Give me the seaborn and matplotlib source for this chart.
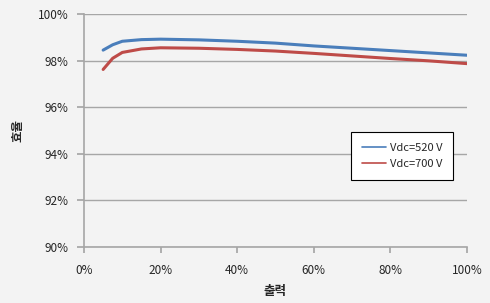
import numpy as np
import pandas as pd
import seaborn as sns
import matplotlib.pyplot as plt
from matplotlib.ticker import PercentFormatter

# values (output %, efficiency %)
load_pct = [5, 7.5, 10, 15, 20, 30, 40, 50, 60, 70, 80, 90, 100]
eff_520 = [98.45, 98.68, 98.83, 98.90, 98.92, 98.89, 98.83, 98.75, 98.63, 98.53, 98.43, 98.33, 98.23]
eff_700 = [97.62, 98.10, 98.35, 98.50, 98.55, 98.53, 98.48, 98.41, 98.31, 98.20, 98.09, 97.99, 97.87]
series_names = ['Vdc=520 V', 'Vdc=700 V']
colors = ['#4a7ebb', '#be4b48']

df = pd.concat([
    pd.DataFrame({'load': load_pct, 'eff': eff_520, 'series': series_names[0]}),
    pd.DataFrame({'load': load_pct, 'eff': eff_700, 'series': series_names[1]}),
])

sns.set_theme(style='white')
plt.rcParams['font.family'] = ['Noto Sans CJK KR', 'DejaVu Sans']

bg = '#f3f3f3'
fig = plt.figure(figsize=(4.9, 3.03), dpi=100, facecolor=bg)
ax = fig.add_axes([0.1714, 0.1848, 0.7816, 0.769])
ax.set_facecolor(bg)

sns.lineplot(data=df, x='load', y='eff', hue='series', palette=colors,
             linewidth=2.2, ax=ax, legend=True)

ax.set_xlim(0, 100)
ax.set_ylim(90, 100)
ax.set_xticks(np.arange(0, 101, 20))
ax.set_yticks(np.arange(90, 101, 2))
ax.xaxis.set_major_formatter(PercentFormatter(decimals=0))
ax.yaxis.set_major_formatter(PercentFormatter(decimals=0))
ax.grid(axis='y', color='#a6a6a6', linewidth=1)
ax.set_axisbelow(True)

for s in ['top', 'right']:
    ax.spines[s].set_visible(False)
for s in ['left', 'bottom']:
    ax.spines[s].set_color('#a6a6a6')
    ax.spines[s].set_linewidth(1.2)

ax.tick_params(axis='x', bottom=True, length=4, color='#a6a6a6', labelsize=8.5, pad=8)
ax.tick_params(axis='y', left=True, length=5, color='#a6a6a6', labelsize=8.5, pad=6)

ax.set_xlabel('출력', fontsize=9, fontweight='bold', labelpad=6)
ax.set_ylabel('효율', fontsize=9, fontweight='bold', labelpad=10)

leg = ax.legend(loc='upper left', bbox_to_anchor=(0.697, 0.494), frameon=True,
                fancybox=False, fontsize=8, handlelength=2.2, handletextpad=0.3,
                borderpad=1.0, labelspacing=0.55, borderaxespad=0)
leg.get_frame().set_edgecolor('black')
leg.get_frame().set_facecolor('white')
leg.get_frame().set_alpha(1)
leg.get_frame().set_linewidth(0.8)
for line in leg.get_lines():
    line.set_linewidth(1.2)

plt.savefig('out.png', dpi=100, facecolor=bg)
